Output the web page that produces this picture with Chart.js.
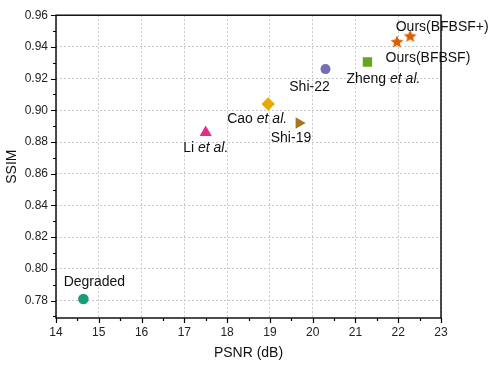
<!DOCTYPE html>
<html>
<head>
<meta charset="utf-8">
<script src="https://cdn.jsdelivr.net/npm/chart.js@4.4.0/dist/chart.umd.min.js"></script>
<style>
  html, body { margin: 0; padding: 0; background: #fff; }
  #wrap { width: 490px; height: 366px; }
</style>
</head>
<body>
<div id="wrap"><canvas id="c"></canvas></div>
<script>
(function(){
    'use strict';

    // data
    var methods = ['Degraded', 'Li et al.', 'Cao et al.', 'Shi-19', 'Shi-22', 'Zheng et al.', 'Ours(BFBSF)', 'Ours(BFBSF+)'];
    var psnr = [14.64, 17.50, 18.96, 19.68, 20.30, 21.28, 21.97, 22.28];
    var ssim = [0.781, 0.886, 0.904, 0.892, 0.926, 0.9305, 0.943, 0.9466];
    var xTicks = [14, 15, 16, 17, 18, 19, 20, 21, 22, 23];
    var yTicks = [0.78, 0.80, 0.82, 0.84, 0.86, 0.88, 0.90, 0.92, 0.94, 0.96];

    // styling
    var colors = ['#1b9e77', '#e7298a', '#e6ab02', '#a6761d', '#7570b3', '#66a61e', '#d95f02', '#d95f02'];
    var FONT = '"Liberation Sans", Arial, Helvetica, sans-serif';

    function makeStar(color, r){
        var s = Math.ceil(r * 2) + 2;
        var c = document.createElement('canvas');
        c.width = s; c.height = s;
        var g = c.getContext('2d');
        g.fillStyle = color;
        g.beginPath();
        for (var k = 0; k < 10; k++) {
            var rad = (k % 2) ? r * 0.45 : r;
            var a = -Math.PI / 2 + k * Math.PI / 5;
            g.lineTo(s / 2 + rad * Math.cos(a), s / 2 + rad * Math.sin(a));
        }
        g.closePath();
        g.fill();
        return c;
    }

    var shapes = ['circle', 'triangle', 'rectRot', 'triangle', 'circle', 'rect', makeStar(colors[6], 6.8), makeStar(colors[7], 6.8)];
    var rotations = [0, 0, 0, 90, 0, 0, 0, 0];
    var radii = [5.3, 7, 6.7, 6.7, 5, 6.6, 7, 7];
    // label placement: [dx of text centre, dy of baseline] from the marker
    var labelPos = [[11, -13], [0, 19], [-11, 19], [-8, 19], [-16, 22], [16, 21], [31, 20], [32, -5]];

    var datasets = methods.map(function(name, i){
        return {
            label: name,
            data: [{x: psnr[i], y: ssim[i]}],
            pointStyle: shapes[i],
            rotation: rotations[i],
            pointRadius: radii[i],
            pointHoverRadius: radii[i],
            backgroundColor: colors[i],
            borderColor: colors[i],
            borderWidth: 0
        };
    });

    var framePlugin = {
        id: 'frame',
        afterDraw: function(chart){
            var ctx = chart.ctx, a = chart.chartArea;
            var xs = chart.scales.x, ys = chart.scales.y;
            ctx.save();
            ctx.strokeStyle = '#000';
            ctx.lineWidth = 1.4;
            ctx.strokeRect(a.left, a.top, a.right - a.left, a.bottom - a.top);

            ctx.lineWidth = 1.2;
            ctx.beginPath();
            var v, p;
            for (v = xs.min; v <= xs.max + 1e-9; v += 0.5) {
                p = Math.round(xs.getPixelForValue(v)) + 0.5;
                var major = Math.abs(v - Math.round(v)) < 1e-6;
                ctx.moveTo(p, a.bottom);
                ctx.lineTo(p, a.bottom + (major ? 5 : 3));
            }
            for (var k = 77; k <= 96; k++) {
                v = k / 100;
                if (v < ys.min) continue;
                p = Math.round(ys.getPixelForValue(v)) + 0.5;
                ctx.moveTo(a.left, p);
                ctx.lineTo(a.left - (k % 2 === 0 ? 5 : 3), p);
            }
            ctx.stroke();

            // point labels
            ctx.fillStyle = '#111';
            ctx.textBaseline = 'alphabetic';
            ctx.textAlign = 'left';
            methods.forEach(function(name, i){
                var px = xs.getPixelForValue(psnr[i]);
                var py = ys.getPixelForValue(ssim[i]);
                var segs;
                var j = name.indexOf('et al.');
                if (j >= 0) {
                    segs = [{t: name.slice(0, j), it: false}, {t: 'et al.', it: true}];
                } else {
                    segs = [{t: name, it: false}];
                }
                var w = 0;
                segs.forEach(function(s){
                    ctx.font = (s.it ? 'italic ' : '') + '14px ' + FONT;
                    s.w = ctx.measureText(s.t).width;
                    w += s.w;
                });
                var x = px + labelPos[i][0] - w / 2;
                var y = py + labelPos[i][1];
                segs.forEach(function(s){
                    ctx.font = (s.it ? 'italic ' : '') + '14px ' + FONT;
                    ctx.fillText(s.t, x, y);
                    x += s.w;
                });
            });
            ctx.restore();
        }
    };

    var tickFont = {family: FONT, size: 12};

    new Chart(document.getElementById('c'), {
        type: 'scatter',
        data: {datasets: datasets},
        options: {
            responsive: true,
            maintainAspectRatio: false,
            animation: false,
            layout: {padding: {top: 13, right: 49, left: 0, bottom: 0}},
            plugins: {
                legend: {display: false},
                tooltip: {enabled: false}
            },
            scales: {
                x: {
                    type: 'linear',
                    min: 14,
                    max: 23,
                    afterBuildTicks: function(scale){
                        scale.ticks = xTicks.map(function(v){ return {value: v}; });
                    },
                    afterFit: function(scale){ scale.height = 48; },
                    grid: {color: '#c8c8c8', drawTicks: false},
                    border: {display: false, dash: [2, 2]},
                    ticks: {font: tickFont, color: '#222', padding: 7, maxRotation: 0,
                        callback: function(v){ return String(v); }},
                    title: {display: true, text: 'PSNR (dB)', color: '#111',
                        font: {family: FONT, size: 14}, padding: {top: 4, bottom: 4}}
                },
                y: {
                    type: 'linear',
                    min: 0.769,
                    max: 0.96,
                    afterBuildTicks: function(scale){
                        scale.ticks = yTicks.map(function(v){ return {value: v}; });
                    },
                    afterFit: function(scale){ scale.width = 56; },
                    grid: {color: '#c8c8c8', drawTicks: false},
                    border: {display: false, dash: [2, 2]},
                    ticks: {font: tickFont, color: '#222', padding: 8,
                        callback: function(v){ return Number(v).toFixed(2); }},
                    title: {display: true, text: 'SSIM', color: '#111',
                        font: {family: FONT, size: 14}, padding: {top: 4, bottom: 4}}
                }
            }
        },
        plugins: [framePlugin]
    });
}());
</script>
</body>
</html>
